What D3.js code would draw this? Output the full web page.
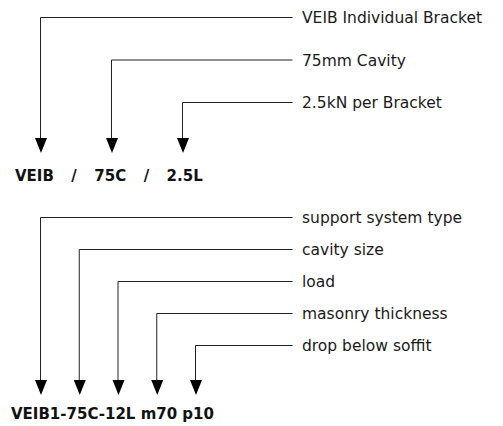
<!DOCTYPE html>
<html>
<head>
<meta charset="utf-8">
<script src="https://cdn.jsdelivr.net/npm/d3@7"></script>
<style>
  body { margin: 0; background: #fff; }
  text { font-family: "DejaVu Sans", sans-serif; fill: #111; }
  .code { font-weight: bold; font-size: 15px; white-space: pre; }
  .label { font-size: 15.5px; fill: #1a1a1a; }
</style>
</head>
<body>
<svg width="503" height="426"></svg>
<script>
// top example: product code and what each part means
var topLabels = ["VEIB Individual Bracket", "75mm Cavity", "2.5kN per Bracket"];
var topCode = ["VEIB", "/", "75C", "/", "2.5L"];

// bottom example: full code breakdown
var bottomLabels = ["support system type", "cavity size", "load", "masonry thickness", "drop below soffit"];
var bottomCode = ["VEIB1-75C-12L", "m70", "p10"];

var svg = d3.select("svg");

var lineEnd = 292.5,
    labelX = 302,
    arrowH = 15,
    arrowW = 6;

function drawBlock(labels, code, opts) {
    var g = svg.append("g");

    var x = d3.scaleLinear()
        .domain([0, labels.length - 1])
        .range(opts.xRange);
    var y = d3.scaleLinear()
        .domain([0, labels.length - 1])
        .range(opts.yRange);

    //elbow connectors
    g.selectAll("path.conn")
        .data(labels)
        .enter().append("path")
        .attr("class", "conn")
        .attr("fill", "none")
        .attr("stroke", "#222")
        .attr("stroke-width", 1)
        .attr("d", function (d, i) {
            return "M" + x(i) + "," + (opts.tip - arrowH) +
                "V" + y(i) + "H" + lineEnd;
        });

    //arrow heads
    g.selectAll("path.head")
        .data(labels)
        .enter().append("path")
        .attr("class", "head")
        .attr("fill", "#000")
        .attr("d", function (d, i) {
            var cx = x(i) + 0.5;
            return "M" + (cx - arrowW) + "," + (opts.tip - arrowH) +
                "L" + (cx + arrowW) + "," + (opts.tip - arrowH) +
                "L" + cx + "," + opts.tip + "Z";
        });

    //labels on the right
    g.selectAll("text.label")
        .data(labels)
        .enter().append("text")
        .attr("class", "label")
        .attr("x", labelX)
        .attr("y", function (d, i) { return y(i) + 5.5; })
        .text(function (d) { return d; });

    //the code itself
    g.append("text")
        .attr("class", "code")
        .attr("x", opts.codeX)
        .attr("y", opts.codeY)
        .style("word-spacing", opts.wordSpacing + "px")
        .text(code.join(opts.sep));
}

drawBlock(topLabels, topCode, {
    xRange: [40.5, 182.5],
    yRange: [17.5, 102.5],
    tip: 153,
    codeX: 15,
    codeY: 180.5,
    sep: "   ",
    wordSpacing: 0.6
});

drawBlock(bottomLabels, bottomCode, {
    xRange: [40.5, 195.5],
    yRange: [217.5, 345.5],
    tip: 395,
    codeX: 11,
    codeY: 419,
    sep: " ",
    wordSpacing: 0
});
</script>
</body>
</html>
